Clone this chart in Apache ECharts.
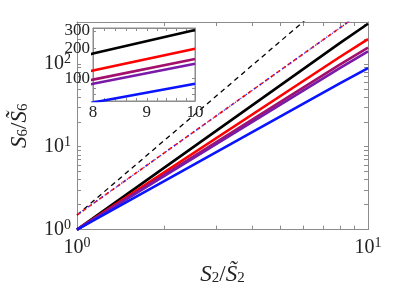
<!DOCTYPE html>
<html><head><meta charset="utf-8">
<script src="https://cdn.jsdelivr.net/npm/echarts@6/dist/echarts.min.js"></script>
<style>html,body{margin:0;padding:0;background:#fff}#c{width:407px;height:291px}</style>
</head><body><div id="c"></div>
<script>
// data
var xs = [1, 8, 10];
var blackSolid = [1, 178, 305];
var redSolid = [1, 121, 199];
var maroonSolid = [1, 98, 157];
var purpleSolid = [1, 89, 141];
var blueSolid = [1, 58, 89];
var refX = [1, 10];
var blackDashed = [1.5, 1500];
var redDashed = [1.5, 474];
var blueDotted = [1.5, 474];
var xMinorTicks = [1,2,3,4,5,6,7,8,9,10];
var yMinorTicks = [1,2,3,4,5,6,7,8,9,10,20,30,40,50,60,70,80,90,100,200,300];
var xLabels = [1, 10];
var yLabels = [1, 10, 100];
var insetXTicks = [8,8.2,8.4,8.6,8.8,9,9.2,9.4,9.6,9.8,10];
var insetXLabels = [8, 9, 10];
var insetYTicks = [60,70,80,90,100,200,300];
var insetYLabels = [100, 200, 300];

function pairs(x, y){ return x.map(function(v,i){return [v, y[i]];}); }
var FONT = 'Liberation Serif';
var axisGray = '#8c8c8c';
function pow10(v){ var e = Math.round(Math.log10(v)); return '10{s|' + e + '}'; }
var supRich = { s: { fontSize: 14, fontFamily: FONT, color: '#222', verticalAlign: 'top', padding: [0,0,9,0] } };

function mkX(grid, opts){
  return Object.assign({
    type: 'log', logBase: 10, gridIndex: grid,
    axisLine: { show: true, onZero: false, lineStyle: { color: axisGray, width: 1 } },
    axisTick: { show: true, inside: true, length: 4, lineStyle: { color: axisGray } },
    splitLine: { show: false }, minorTick: { show: false }
  }, opts);
}

var solids = [
  { d: blackSolid, c: '#000000' },
  { d: redSolid, c: '#ff0000' },
  { d: maroonSolid, c: '#a3106c' },
  { d: purpleSolid, c: '#7a1aa8' },
  { d: blueSolid, c: '#0a14ff' }
];

var series = [];
series.push({ type: 'line', xAxisIndex: 0, yAxisIndex: 0, data: pairs(refX, blackDashed), symbol: 'none', lineStyle: { color: '#000', width: 1.3, type: [5, 4] }, z: 3 });
series.push({ type: 'line', xAxisIndex: 0, yAxisIndex: 0, data: pairs(refX, redDashed), symbol: 'none', lineStyle: { color: '#ff1a1a', width: 1.7, type: [4, 3] }, z: 3 });
series.push({ type: 'line', xAxisIndex: 0, yAxisIndex: 0, data: pairs(refX, blueDotted), symbol: 'none', lineStyle: { color: '#1a1aff', width: 1.1, type: [1.2, 2.2] }, z: 4 });
solids.forEach(function(s){
  series.push({ type: 'line', xAxisIndex: 0, yAxisIndex: 0, data: pairs(xs, s.d), symbol: 'none', lineStyle: { color: s.c, width: 2.6 }, z: 2 });
});
solids.forEach(function(s){
  series.push({ type: 'line', xAxisIndex: 2, yAxisIndex: 2, data: pairs(xs, s.d), symbol: 'none', lineStyle: { color: s.c, width: 2.6 }, z: 12 });
});

var titleRich = {
  i: { fontFamily: FONT, fontStyle: 'italic', fontSize: 23, color: '#222' },
  n: { fontFamily: FONT, fontSize: 23, color: '#222' },
  b: { fontFamily: FONT, fontSize: 15, color: '#222', verticalAlign: 'bottom', padding: [8,0,0,0] }
};

var option = {
  animation: false,
  backgroundColor: '#fff',
  grid: [
    { left: 62, top: 22, width: 306, height: 211, show: false },
    { left: 93, top: 28, width: 102, height: 73, show: true, backgroundColor: '#fff', borderColor: axisGray, borderWidth: 1, z: 10 }
  ],
  xAxis: [
    mkX(0, { min: 1, max: 10, position: 'bottom',
      axisTick: { show: true, inside: true, length: 4, customValues: xMinorTicks, lineStyle: { color: axisGray } },
      axisLabel: { customValues: xLabels, formatter: pow10, fontFamily: FONT, fontSize: 20, color: '#222', margin: 7, rich: supRich },
      name: '{i|S}{b|2}{n|/}{i|S\u0303}{b|2}', nameLocation: 'middle', nameGap: 33,
      nameTextStyle: { rich: titleRich } }),
    mkX(0, { min: 1, max: 10, position: 'top',
      axisTick: { show: true, inside: true, length: 4, customValues: xMinorTicks, lineStyle: { color: axisGray } },
      axisLabel: { show: false } }),
    mkX(1, { min: 8, max: 10, position: 'bottom', z: 11,
      axisTick: { show: true, inside: true, length: 3, customValues: insetXTicks, lineStyle: { color: axisGray } },
      axisLabel: { customValues: insetXLabels, fontFamily: FONT, fontSize: 17, color: '#222', margin: 3 } }),
    mkX(1, { min: 8, max: 10, position: 'top', z: 11,
      axisTick: { show: true, inside: true, length: 3, customValues: insetXTicks, lineStyle: { color: axisGray } },
      axisLabel: { show: false } })
  ],
  yAxis: [
    mkX(0, { min: 1, max: 320, position: 'left',
      axisTick: { show: true, inside: true, length: 4, customValues: yMinorTicks, lineStyle: { color: axisGray } },
      axisLabel: { customValues: yLabels, formatter: pow10, fontFamily: FONT, fontSize: 20, color: '#222', margin: 6, rich: supRich },
      name: '{i|S}{b|6}{n|/}{i|S\u0303}{b|6}', nameLocation: 'middle', nameGap: 46,
      nameTextStyle: { rich: titleRich } }),
    mkX(0, { min: 1, max: 320, position: 'right',
      axisTick: { show: true, inside: true, length: 4, customValues: yMinorTicks, lineStyle: { color: axisGray } },
      axisLabel: { show: false } }),
    mkX(1, { min: 60, max: 320, position: 'left', z: 11,
      axisTick: { show: true, inside: true, length: 3, customValues: insetYTicks, lineStyle: { color: axisGray } },
      axisLabel: { customValues: insetYLabels, fontFamily: FONT, fontSize: 17, color: '#222', margin: 3 } }),
    mkX(1, { min: 60, max: 320, position: 'right', z: 11,
      axisTick: { show: true, inside: true, length: 3, customValues: insetYTicks, lineStyle: { color: axisGray } },
      axisLabel: { show: false } })
  ],
  series: series
};
var chart = echarts.init(document.getElementById('c'), null, { renderer: 'canvas' });
chart.setOption(option);
</script></body></html>
